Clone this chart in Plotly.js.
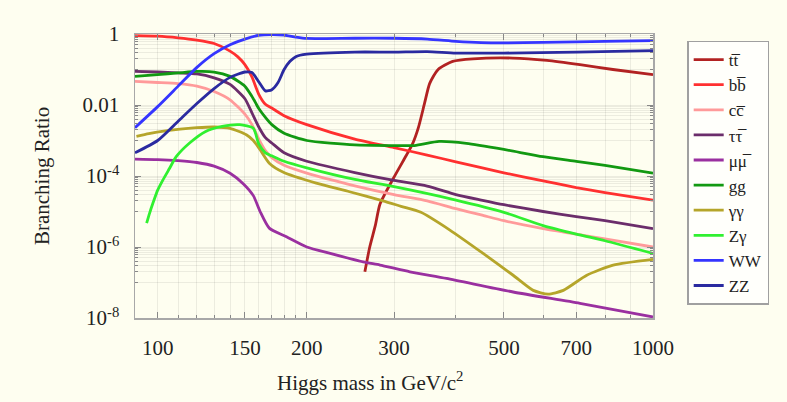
<!DOCTYPE html>
<html>
<head>
<meta charset="utf-8">
<script src="https://cdn.plot.ly/plotly-3.0.1.min.js"></script>
<style>
  html, body { margin: 0; padding: 0; background: #fefef0; }
  #chart { width: 787px; height: 402px; }
</style>
</head>
<body>
<div id="chart"></div>
<script>
// ---- Data (Higgs mass in GeV/c^2, branching ratios) ----
const mass_tt = [262, 268, 275, 281, 299, 318, 327, 336, 346, 354, 368, 394, 433, 521, 611, 712, 830, 1000];
const br_tt   = [2.0e-7, 1.0e-6, 4.0e-6, 1.6e-5, 8.5e-5, 3.9e-4, 8.0e-4, 2.3e-3, 0.0116, 0.040, 0.099, 0.17, 0.20, 0.21, 0.18, 0.137, 0.10, 0.072];

const mass_bb = [90, 100, 110, 120, 130, 140, 145, 150, 155, 160, 165, 170, 180, 200, 250, 300, 350, 400, 500, 600, 700, 800, 1000];
const br_bb   = [0.90, 0.87, 0.78, 0.67, 0.54, 0.33, 0.23, 0.137, 0.062, 0.020, 0.0105, 0.0082, 0.0050, 0.0028, 1.1e-3, 6.3e-4, 3.9e-4, 2.5e-4, 1.23e-4, 7.3e-5, 4.7e-5, 3.4e-5, 2.1e-5];

const mass_ferm = [90, 100, 110, 120, 130, 140, 150, 155, 160, 165, 170, 180, 200, 250, 300, 350, 400, 450, 500, 600, 700, 800, 1000];
const br_cc     = [0.046, 0.043, 0.040, 0.034, 0.024, 0.014, 0.0055, 0.0028, 1.1e-3, 5.2e-4, 3.3e-4, 2.0e-4, 1.2e-4, 5.3e-5, 3.0e-5, 2.0e-5, 1.2e-5, 8.0e-6, 5.5e-6, 3.3e-6, 2.3e-6, 1.7e-6, 1.0e-6];
const br_tautau = [0.089, 0.085, 0.080, 0.075, 0.058, 0.038, 0.015, 0.006, 2.4e-3, 1.2e-3, 8.5e-4, 4.5e-4, 2.6e-4, 1.25e-4, 7.5e-5, 5.2e-5, 3.0e-5, 2.1e-5, 1.55e-5, 1.0e-5, 7.2e-6, 5.5e-6, 3.3e-6];

const mass_mumu = [90, 100, 110, 120, 130, 140, 149, 156, 161, 168, 182, 200, 223, 260, 281, 323, 383, 522, 712, 1000];
const br_mumu   = [3.0e-4, 2.9e-4, 2.7e-4, 2.4e-4, 1.9e-4, 1.2e-4, 6.0e-5, 2.8e-5, 1.0e-5, 3.4e-6, 1.94e-6, 1.0e-6, 6.6e-7, 3.8e-7, 3.1e-7, 2.0e-7, 1.3e-7, 5.4e-8, 2.6e-8, 1.07e-8];

const mass_gg = [90, 100, 110, 120, 130, 140, 150, 155, 160, 165, 170, 180, 200, 250, 300, 330, 370, 420, 500, 600, 700, 800, 1000];
const br_gg   = [0.064, 0.072, 0.080, 0.088, 0.085, 0.064, 0.034, 0.0175, 0.008, 0.0045, 0.0028, 1.6e-3, 1.0e-3, 7.5e-4, 7.2e-4, 7.2e-4, 9.4e-4, 8.3e-4, 5.6e-4, 3.5e-4, 2.6e-4, 2.0e-4, 1.2e-4];

const mass_gamgam = [90.6, 96, 102, 111, 120, 130, 140, 151, 156, 161, 168, 179, 209, 244, 285, 310, 340, 389, 454, 522, 573, 614, 659, 735, 831, 1000];
const br_gamgam   = [1.3e-3, 1.55e-3, 1.8e-3, 2.1e-3, 2.3e-3, 2.4e-3, 2.2e-3, 1.45e-3, 1.0e-3, 5.5e-4, 2.3e-4, 1.3e-4, 6.3e-5, 3.6e-5, 2.0e-5, 1.4e-5, 9.5e-6, 3.0e-6, 6.6e-7, 1.6e-7, 6.0e-8, 4.7e-8, 6.0e-8, 1.6e-7, 3.1e-7, 4.5e-7];

const mass_Zgam = [95, 96.3, 97.8, 100, 102.5, 105.7, 109, 116, 125, 135, 146.5, 156, 160, 165, 170, 180, 200, 250, 300, 400, 500, 600, 700, 800, 1000];
const br_Zgam   = [4.7e-6, 8.9e-6, 1.7e-5, 4.0e-5, 7.8e-5, 1.65e-4, 3.5e-4, 8.5e-4, 1.8e-3, 2.5e-3, 2.8e-3, 2.2e-3, 8.0e-4, 4.5e-4, 3.7e-4, 2.6e-4, 1.7e-4, 8.0e-5, 5.0e-5, 2.1e-5, 9.5e-6, 4.0e-6, 2.3e-6, 1.5e-6, 6.6e-7];

const mass_WW = [90, 100, 110, 120, 130, 140, 150, 160, 170, 180, 190, 200, 250, 300, 350, 400, 450, 500, 600, 700, 800, 1000];
const br_WW   = [0.0023, 0.009, 0.034, 0.115, 0.28, 0.50, 0.72, 0.92, 0.96, 0.93, 0.82, 0.75, 0.76, 0.76, 0.72, 0.62, 0.57, 0.56, 0.58, 0.60, 0.62, 0.65];

const mass_ZZ = [90, 100, 110, 120, 130, 140, 150, 155, 160, 165, 170, 175, 180, 185, 190, 200, 250, 300, 350, 400, 500, 700, 1000];
const br_ZZ   = [4.5e-4, 1.0e-3, 3.5e-3, 0.011, 0.029, 0.060, 0.085, 0.082, 0.045, 0.025, 0.027, 0.043, 0.10, 0.17, 0.23, 0.27, 0.31, 0.31, 0.32, 0.29, 0.29, 0.31, 0.34];

const xTickVals = [100, 150, 200, 300, 500, 700, 1000];
const xTickText = ['100', '150', '200', '300', '500', '700', '1000'];
const xMinorVals = [110, 120, 130, 140, 160, 170, 180, 190, 400, 600, 800, 900];
const yTickVals = [1, 0.01, 1e-4, 1e-6, 1e-8];
const yTickText = ['1', '0.01', '10<sup>-4</sup>', '10<sup>-6</sup>', '10<sup>-8</sup>'];
const yMinorExps = [-1, -3, -5, -7];

// ---- Series definitions ----
const series = [
  {name: 't\u0074\u0305', x: mass_tt, y: br_tt, color: '#b22222'},
  {name: 'b\u0062\u0305', x: mass_bb, y: br_bb, color: '#ff3030'},
  {name: 'c\u0063\u0305', x: mass_ferm, y: br_cc, color: '#ff9a9a'},
  {name: '\u03c4\u03c4\u0305', x: mass_ferm, y: br_tautau, color: '#6b2d6b'},
  {name: '\u03bc\u03bc\u0305', x: mass_mumu, y: br_mumu, color: '#9a30a0'},
  {name: 'gg', x: mass_gg, y: br_gg, color: '#129912'},
  {name: '\u03b3\u03b3', x: mass_gamgam, y: br_gamgam, color: '#b5a52a'},
  {name: 'Z\u03b3', x: mass_Zgam, y: br_Zgam, color: '#30f030'},
  {name: 'WW', x: mass_WW, y: br_WW, color: '#3535ff'},
  {name: 'ZZ', x: mass_ZZ, y: br_ZZ, color: '#2a2aa0'}
];

const traces = series.map(s => ({
  type: 'scatter', mode: 'lines', name: s.name, x: s.x, y: s.y,
  line: {color: s.color, width: 2.8, shape: 'spline', smoothing: 0.6}
}));

const yMinorVals = [];
yMinorExps.forEach(e => { for (let k = 1; k <= 9; k++) yMinorVals.push(k * Math.pow(10, e)); });

const font = 'Liberation Serif, Times New Roman, serif';
const grid = 'rgba(0,0,0,0.07)';

const layout = {
  width: 787, height: 402,
  margin: {l: 135, r: 134, t: 34, b: 84},
  paper_bgcolor: '#fefef0',
  plot_bgcolor: '#fefef0',
  font: {family: font, size: 20, color: '#222'},
  showlegend: true,
  legend: {
    x: 1.066, y: 0.977, xanchor: 'left', yanchor: 'top',
    bgcolor: '#fffffb', bordercolor: '#a0a0a0', borderwidth: 1.5,
    font: {family: font, size: 17, color: '#222'},
    itemwidth: 30
  },
  xaxis: {
    type: 'log', range: [Math.log10(90), 3],
    tickmode: 'array', tickvals: xTickVals, ticktext: xTickText,
    ticks: 'inside', ticklen: 6, tickcolor: '#888', tickwidth: 1,
    showline: true, linecolor: '#a8a8a8', linewidth: 1.5, mirror: 'allticks',
    showgrid: true, gridcolor: grid, gridwidth: 1,
    zeroline: false,
    tickfont: {family: font, size: 21, color: '#222'},
    ticklabelstandoff: 10,
    minor: {tickmode: 'array', tickvals: xMinorVals, ticks: 'inside', ticklen: 3, tickcolor: '#888', showgrid: true, gridcolor: grid}
  },
  yaxis: {
    type: 'log', range: [-8, 0],
    tickmode: 'array', tickvals: yTickVals, ticktext: yTickText,
    ticks: 'inside', ticklen: 6, tickcolor: '#888', tickwidth: 1,
    showline: true, linecolor: '#a8a8a8', linewidth: 1.5, mirror: 'allticks',
    showgrid: true, gridcolor: grid, gridwidth: 1,
    zeroline: false,
    tickfont: {family: font, size: 21, color: '#222'},
    ticklabelstandoff: 10,
    minor: {tickmode: 'array', tickvals: yMinorVals, ticks: 'inside', ticklen: 3, tickcolor: '#888', showgrid: true, gridcolor: grid}
  },
  annotations: [
    {text: 'Higgs mass in GeV/c<sup>2</sup>', xref: 'paper', yref: 'paper', x: 0.4537, y: -0.222,
     xanchor: 'center', yanchor: 'middle', showarrow: false, font: {family: font, size: 21, color: '#222'}},
    {text: 'Branching Ratio', xref: 'paper', yref: 'paper', x: -0.1795, y: 0.5, textangle: -90,
     xanchor: 'center', yanchor: 'middle', showarrow: false, font: {family: font, size: 21, color: '#222'}}
  ]
};

Plotly.newPlot('chart', traces, layout, {displayModeBar: false, staticPlot: true});
</script>
</body>
</html>
